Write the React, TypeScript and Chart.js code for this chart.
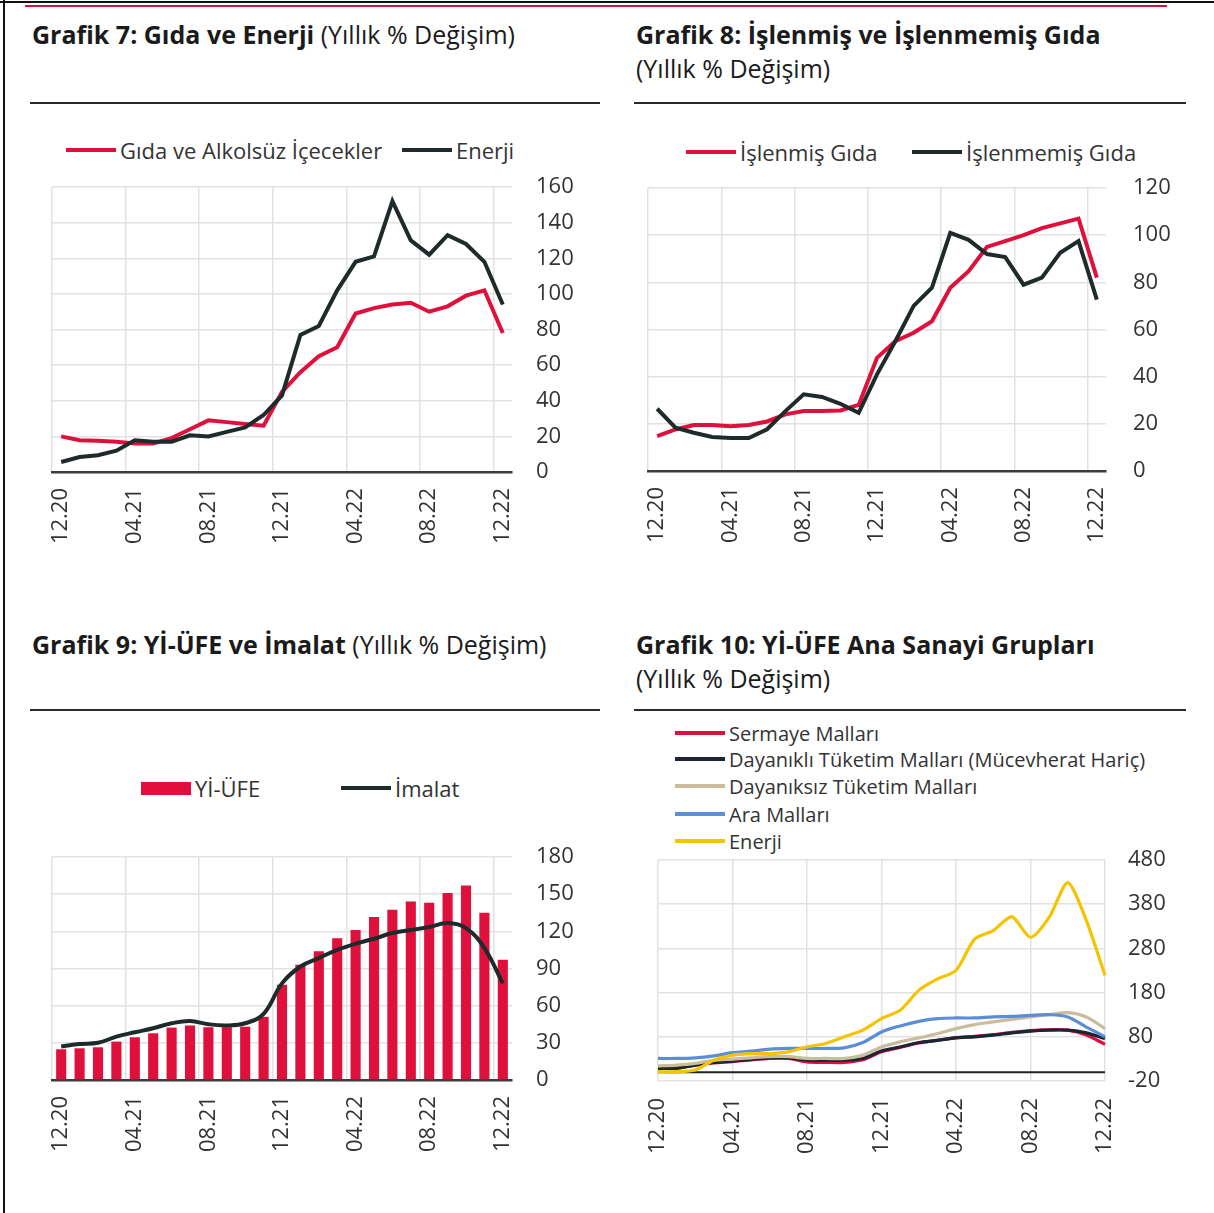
import React, { useEffect, useRef } from 'react';
import { Chart, registerables } from 'chart.js';
Chart.register(...registerables);

const months = ['12.20','01.21','02.21','03.21','04.21','05.21','06.21','07.21','08.21','09.21','10.21','11.21','12.21','01.22','02.22','03.22','04.22','05.22','06.22','07.22','08.22','09.22','10.22','11.22','12.22'];

// Grafik 7
const gidaAlkolsuz = [20, 17.8, 17.5, 17, 16, 16, 19, 24, 29, 28, 27, 26, 45, 56, 65, 70, 89, 92, 94, 95, 90, 93, 99, 102, 78];
const enerji7 = [5.6, 8.4, 9.4, 12, 17.8, 17, 17, 20.6, 20, 22.5, 25, 32, 43, 77, 82, 102, 118, 121, 152, 130, 122, 133, 128, 118, 94];
const ticks7 = [0, 160, 20];

// Grafik 8
const islenmisGida = [14.8, 17.6, 19.5, 19.5, 19, 19.5, 21, 24, 25.4, 25.4, 25.7, 28, 48, 55, 58.6, 63.5, 77.7, 84.7, 95, 97.5, 100, 103, 105, 107, 82];
const islenmemisGida = [26.4, 18.4, 16.2, 14.4, 14, 14, 17.7, 25.4, 32.5, 31.4, 28.5, 24.7, 41, 55, 70, 77.7, 101, 98, 92, 90.7, 79, 82, 92.5, 97.5, 72.7];
const ticks8 = [0, 120, 20];

// Grafik 9
const yiUfe = [24.8, 25.6, 26.4, 31, 34.5, 37.7, 42.3, 44, 42.6, 42.6, 43, 51, 76.8, 93, 104, 114.5, 121, 131.5, 137.5, 144, 143, 151, 157, 135, 97];
const imalat = [27, 29, 30, 35, 38.5, 41.8, 45.8, 47.7, 45, 44, 45.8, 53.4, 78, 91.6, 98.4, 105, 110, 114, 118.6, 121, 123.5, 126.7, 122.6, 106.5, 78];
const ticks9 = [0, 180, 30];

// Grafik 10
const sermayeMallari = [10, 10, 16, 21, 24, 28, 31, 31, 23, 22, 22, 28, 46, 56, 66, 72, 78, 81, 85, 90, 94, 96, 95, 84, 63];
const dayanikliTuketim = [8.5, 8.5, 16, 22, 25, 29, 32.5, 32.5, 27, 27, 27, 31, 48, 57, 67, 72, 77.6, 80, 83.6, 89, 93, 95, 95, 89, 76];
const dayaniksizTuketim = [14, 16, 20, 27, 29.5, 32.5, 35, 35, 31, 31, 31, 38.5, 57, 68.6, 77.6, 87, 98.6, 107.6, 113.6, 119.6, 125, 130, 134.6, 125, 98.6];
const araMallari = [31, 31, 32.5, 37, 44, 47.5, 52, 53.6, 53.6, 53.6, 55, 67, 91, 104.6, 115, 121, 122.6, 122.6, 125, 126, 128.6, 130, 125, 102, 80];
const enerji10 = [1, 1, 4.8, 27, 38.5, 42, 42, 46, 57, 65, 80, 95, 121, 140, 185, 211, 230, 301, 320, 352, 305, 350, 429, 343, 219];
const ticks10 = [-20, 480, 100];

const FONT = "'Open Sans', 'Noto Sans', sans-serif";
const RED = '#e0103c';
const DARK = '#1f2b2b';
const GRID = '#e2e2e2';
const TXT = '#333333';

function xScale(offset: boolean, pad: number, height: number, axisLine: boolean) {
  return {
    type: 'category',
    offset,
    grid: {
      offset,
      color: (ctx: any) => (ctx.index !== undefined && ctx.index % 4 === 0 ? GRID : 'rgba(0,0,0,0)'),
      lineWidth: 1.5,
      drawTicks: false,
    },
    border: { display: axisLine, color: '#3c3c3c', width: 2.5 },
    ticks: {
      autoSkip: false,
      minRotation: 90,
      maxRotation: 90,
      padding: pad,
      color: TXT,
      font: { family: FONT, size: 22 },
      callback: (_v: any, i: number) => (i % 4 === 0 ? months[i] : ''),
    },
    afterFit: (axis: any) => {
      axis.height = height;
      axis.paddingLeft = 0;
      axis.paddingRight = 0;
      axis.paddingTop = 0;
      axis.paddingBottom = 0;
    },
  };
}

function yScale(t: number[], pad: number, width: number) {
  return {
    position: 'right',
    min: t[0],
    max: t[1],
    ticks: { stepSize: t[2], padding: pad, color: TXT, font: { family: FONT, size: 22 } },
    grid: { color: GRID, lineWidth: 1.5, drawTicks: false },
    border: { display: false },
    afterFit: (axis: any) => {
      axis.width = width;
      axis.paddingLeft = 0;
      axis.paddingRight = 0;
      axis.paddingTop = 0;
      axis.paddingBottom = 0;
    },
  };
}

const zeroLine = {
  id: 'zeroLine',
  beforeDatasetsDraw(chart: any) {
    const y = chart.scales.y.getPixelForValue(0);
    const { left, right } = chart.chartArea;
    const ctx = chart.ctx;
    ctx.save();
    ctx.strokeStyle = '#222';
    ctx.lineWidth = 2;
    ctx.beginPath();
    ctx.moveTo(left, y);
    ctx.lineTo(right, y);
    ctx.stroke();
    ctx.restore();
  },
};

function lineDs(label: string, data: number[], color: string, width: number, tension: number, order = 0) {
  return { type: 'line', label, data, borderColor: color, backgroundColor: color, borderWidth: width, pointRadius: 0, tension, order, fill: false };
}

function ChartBox(props: { left: number; top: number; width: number; height: number; build: () => any }) {
  const ref = useRef<HTMLCanvasElement>(null);
  useEffect(() => {
    const cfg = props.build();
    const chart = new Chart(ref.current as HTMLCanvasElement, cfg);
    return () => chart.destroy();
  }, []);
  return (
    <canvas
      ref={ref}
      width={props.width}
      height={props.height}
      style={{ position: 'absolute', left: props.left, top: props.top, width: props.width, height: props.height }}
    />
  );
}

function baseOptions(padding: any, scales: any) {
  return {
    responsive: false,
    maintainAspectRatio: false,
    animation: false,
    layout: { padding },
    plugins: { legend: { display: false }, tooltip: { enabled: false } },
    scales,
  };
}

const build7 = () => ({
  type: 'line',
  data: {
    labels: months,
    datasets: [
      lineDs('Enerji', enerji7, DARK, 4, 0, 0),
      lineDs('Gıda ve Alkolsüz İçecekler', gidaAlkolsuz, RED, 4, 0, 1),
    ],
  },
  options: baseOptions({ left: 12, right: 24, top: 12, bottom: 0 }, { x: xScale(true, 16, 93, true), y: yScale(ticks7, 24, 64) }),
});

const build8 = () => ({
  type: 'line',
  data: {
    labels: months,
    datasets: [
      lineDs('İşlenmemiş Gıda', islenmemisGida, DARK, 4, 0, 0),
      lineDs('İşlenmiş Gıda', islenmisGida, RED, 4, 0, 1),
    ],
  },
  options: baseOptions({ left: 12, right: 20, top: 12, bottom: 0 }, { x: xScale(true, 16, 94, true), y: yScale(ticks8, 27, 70) }),
});

const build9 = () => ({
  type: 'bar',
  data: {
    labels: months,
    datasets: [
      lineDs('İmalat', imalat, DARK, 4, 0.4, 0),
      { type: 'bar', label: 'Yİ-ÜFE', data: yiUfe, backgroundColor: RED, barPercentage: 0.55, categoryPercentage: 1, order: 1 },
    ],
  },
  options: baseOptions({ left: 12, right: 24, top: 12, bottom: 0 }, { x: xScale(true, 16, 85, true), y: yScale(ticks9, 24, 64) }),
});

const build10 = () => ({
  type: 'line',
  data: {
    labels: months,
    datasets: [
      lineDs('Enerji', enerji10, '#f5c300', 3.2, 0.25, 0),
      lineDs('Ara Malları', araMallari, '#5b8ed6', 3.2, 0.3, 1),
      lineDs('Dayanıksız Tüketim Malları', dayaniksizTuketim, '#cbbc9c', 3.2, 0.3, 2),
      lineDs('Dayanıklı Tüketim Malları (Mücevherat Hariç)', dayanikliTuketim, '#1b2533', 3.2, 0.3, 3),
      lineDs('Sermaye Malları', sermayeMallari, '#e0103c', 3.2, 0.3, 4),
    ],
  },
  options: baseOptions({ left: 18, right: 20, top: 12, bottom: 0 }, { x: xScale(false, 17, 84, false), y: yScale(ticks10, 23, 71) }),
  plugins: [zeroLine],
});

const titleBold: React.CSSProperties = { fontWeight: 700 };

function Title(props: { left: number; top: number; children: React.ReactNode }) {
  return (
    <div style={{ position: 'absolute', left: props.left, top: props.top, fontFamily: FONT, fontSize: 25, color: '#1b1b1b', lineHeight: '34px', whiteSpace: 'nowrap' }}>
      {props.children}
    </div>
  );
}

function Rule(props: { left: number; top: number; width: number; color?: string; h?: number }) {
  return <div style={{ position: 'absolute', left: props.left, top: props.top, width: props.width, height: props.h ?? 2, background: props.color ?? '#2a2a2a' }} />;
}

function LegendItem(props: { left: number; top: number; color: string; label: string; w?: number; thick?: number; size?: number }) {
  const thick = props.thick ?? 4;
  const size = props.size ?? 22;
  return (
    <div style={{ position: 'absolute', left: props.left, top: props.top - 15, height: 30, display: 'flex', alignItems: 'center', fontFamily: FONT, fontSize: size, color: TXT, whiteSpace: 'nowrap' }}>
      <span style={{ display: 'inline-block', width: props.w ?? 50, height: thick, background: props.color, marginRight: 4 }} />
      <span>{props.label}</span>
    </div>
  );
}

export default function App() {
  return (
    <div style={{ position: 'absolute', left: 0, top: 0, width: 1214, height: 1213, background: '#fff', overflow: 'hidden' }}>
      <Rule left={0} top={1} width={1214} color="#111" />
      <Rule left={3} top={0} width={2} h={1213} color="#111" />
      <Rule left={25} top={5} width={1142} color="#e0103c" />

      <Title left={32} top={17}><span style={titleBold}>Grafik 7: Gıda ve Enerji</span> (Yıllık % Değişim)</Title>
      <Rule left={30} top={102} width={570} />
      <Title left={636} top={17}><span style={titleBold}>Grafik 8: İşlenmiş ve İşlenmemiş Gıda</span><br />(Yıllık % Değişim)</Title>
      <Rule left={634} top={102} width={552} />
      <Title left={32} top={627}><span style={titleBold}>Grafik 9: Yİ-ÜFE ve İmalat</span> (Yıllık % Değişim)</Title>
      <Rule left={30} top={709} width={570} />
      <Title left={636} top={627}><span style={titleBold}>Grafik 10: Yİ-ÜFE Ana Sanayi Grupları</span><br />(Yıllık % Değişim)</Title>
      <Rule left={634} top={709} width={552} />

      <LegendItem left={66} top={150} color={RED} label="Gıda ve Alkolsüz İçecekler" />
      <LegendItem left={402} top={150} color={DARK} label="Enerji" />

      <LegendItem left={686} top={152} color={RED} label="İşlenmiş Gıda" />
      <LegendItem left={912} top={152} color={DARK} label="İşlenmemiş Gıda" />

      <LegendItem left={141} top={788} color={RED} label="Yİ-ÜFE" thick={13} />
      <LegendItem left={341} top={788} color={DARK} label="İmalat" />

      <LegendItem left={675} top={733} color="#e0103c" label="Sermaye Malları" size={20} />
      <LegendItem left={675} top={759} color="#1b2533" label="Dayanıklı Tüketim Malları (Mücevherat Hariç)" size={20} />
      <LegendItem left={675} top={786} color="#cbbc9c" label="Dayanıksız Tüketim Malları" size={20} />
      <LegendItem left={675} top={814} color="#5b8ed6" label="Ara Malları" size={20} />
      <LegendItem left={675} top={841} color="#f5c300" label="Enerji" size={20} />

      <ChartBox left={40} top={175} width={560} height={390} build={build7} />
      <ChartBox left={636} top={176} width={560} height={389} build={build8} />
      <ChartBox left={40} top={845} width={560} height={320} build={build9} />
      <ChartBox left={640} top={848} width={556} height={317} build={build10} />
    </div>
  );
}
